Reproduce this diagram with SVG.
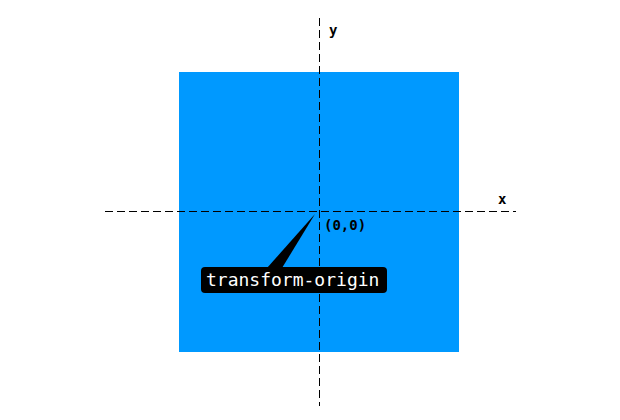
<svg xmlns="http://www.w3.org/2000/svg" width="620" height="420" viewBox="0 0 620 420">
<style>
.axis{stroke:#000;stroke-width:1;stroke-dasharray:8 4;fill:none}
.lbl{font-family:"DejaVu Sans Mono",monospace;font-size:14px;font-weight:bold;fill:#000}
.tag{font-family:"DejaVu Sans Mono",monospace;font-size:18px;fill:#fff}
</style>
<rect width="620" height="420" fill="#fff"/>
<g id="square"><rect x="179" y="72" width="280" height="280" fill="#0099ff"/></g>
<g id="connectors">
<line class="axis" x1="105" y1="211.5" x2="516" y2="211.5"/>
<line class="axis" x1="319.5" y1="18" x2="319.5" y2="406"/>
</g>
<g id="x-label"><text class="lbl" x="498" y="204">x</text></g>
<g id="y-label"><text class="lbl" x="329" y="35">y</text></g>
<g id="origin-label"><text class="lbl" x="324" y="230">(0,0)</text></g>
<g id="transform-origin">
<polygon points="315,214 267,268 282,268" fill="#000"/>
<rect x="201" y="267" width="186" height="26" rx="4" fill="#000"/>
<text class="tag" x="206" y="286">transform-origin</text>
</g>
</svg>
